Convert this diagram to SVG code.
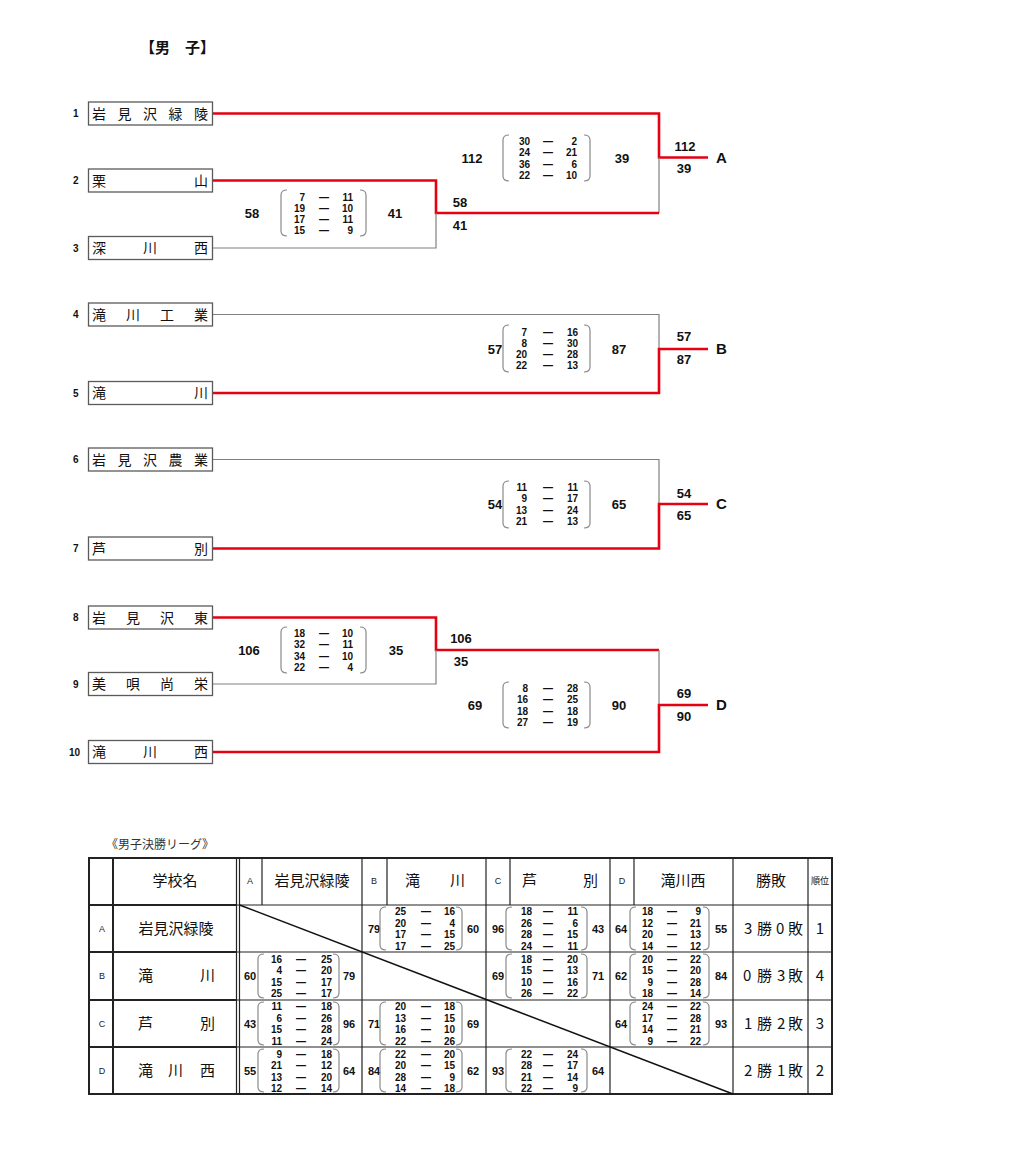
<svg xmlns="http://www.w3.org/2000/svg" width="1031" height="1174" viewBox="0 0 1031 1174">
<style>
.bg{fill:#fff}
.box{fill:#fff;stroke:#5a5a5a;stroke-width:1.3}
.nm{font-family:"Noto Sans CJK JP","Noto Sans CJK SC",sans-serif;font-size:14px;fill:#111}
.tn{font-family:"Noto Sans CJK JP","Noto Sans CJK SC",sans-serif;font-size:15px;fill:#111}
.seed{font-family:"Liberation Sans",Arial,sans-serif;font-size:10px;font-weight:bold;fill:#111}
.g{fill:none;stroke:#808080;stroke-width:1.2}
.r{fill:none;stroke:#e50012;stroke-width:2.6}
.tot{font-family:"Liberation Sans",Arial,sans-serif;font-size:13px;font-weight:bold;fill:#111;text-anchor:middle}
.lab{font-family:"Liberation Sans",Arial,sans-serif;font-size:15px;font-weight:bold;fill:#111}
.s{font-family:"Liberation Sans Narrow","Liberation Sans",Arial,sans-serif;font-size:10px;font-weight:bold;fill:#111;text-anchor:end}
.d{font-family:"Liberation Sans",Arial,sans-serif;font-size:10px;font-weight:bold;fill:#111;text-anchor:middle}
.br{fill:none;stroke:#8a8a8a;stroke-width:1.2}
.tt{font-family:"Liberation Sans",Arial,sans-serif;font-size:11px;font-weight:bold;fill:#111;text-anchor:middle}
.tl{fill:none;stroke:#222;stroke-width:1.2}
.tk{fill:none;stroke:#222;stroke-width:2}
.let{font-family:"Liberation Sans",Arial,sans-serif;font-size:9px;fill:#222;text-anchor:middle}
.mid{text-anchor:middle}
</style>
<rect class="bg" x="0" y="0" width="1031" height="1174"/>
<text x="140" y="53" style="font-family:'Noto Sans CJK JP','Noto Sans CJK SC',sans-serif;font-size:15px;font-weight:bold;fill:#111">【男　子】</text>

<g id="connectors">
<path class="r" d="M213,113.5 H659 V157.5 H708"/>
<path class="g" d="M659,157.5 V213"/>
<path class="r" d="M213,180.5 H436 V213 H659"/>
<path class="g" d="M213,248 H436 V213"/>
<path class="g" d="M213,314.5 H659 V349"/>
<path class="r" d="M213,393 H659 V349 H708"/>
<path class="g" d="M213,459.5 H659 V504"/>
<path class="r" d="M213,548.5 H659 V504 H708"/>
<path class="r" d="M213,617.5 H436 V650 H659"/>
<path class="g" d="M213,684 H436 V650"/>
<path class="g" d="M659,650 V705"/>
<path class="r" d="M213,752 H659 V705 H708"/>
</g>

<g id="team1"><rect class="box" x="88.5" y="102" width="124" height="23"/><text class="seed" x="73" y="117">1</text><text class="nm" x="92 117.5 143 168.5 194" y="118.5">岩見沢緑陵</text></g>
<g id="team2"><rect class="box" x="88.5" y="169" width="124" height="23"/><text class="seed" x="73" y="184">2</text><text class="nm" x="92 194" y="185.5">栗山</text></g>
<g id="team3"><rect class="box" x="88.5" y="236.5" width="124" height="23"/><text class="seed" x="73" y="251.5">3</text><text class="nm" x="92 143 194" y="253">深川西</text></g>
<g id="team4"><rect class="box" x="88.5" y="303" width="124" height="23"/><text class="seed" x="73" y="318">4</text><text class="nm" x="92 126 160 194" y="319.5">滝川工業</text></g>
<g id="team5"><rect class="box" x="88.5" y="381.5" width="124" height="23"/><text class="seed" x="73" y="396.5">5</text><text class="nm" x="92 194" y="398">滝川</text></g>
<g id="team6"><rect class="box" x="88.5" y="448" width="124" height="23"/><text class="seed" x="73" y="463">6</text><text class="nm" x="92 117.5 143 168.5 194" y="464.5">岩見沢農業</text></g>
<g id="team7"><rect class="box" x="88.5" y="537" width="124" height="23"/><text class="seed" x="73" y="552">7</text><text class="nm" x="92 194" y="553.5">芦別</text></g>
<g id="team8"><rect class="box" x="88.5" y="606" width="124" height="23"/><text class="seed" x="73" y="621">8</text><text class="nm" x="92 126 160 194" y="622.5">岩見沢東</text></g>
<g id="team9"><rect class="box" x="88.5" y="672.5" width="124" height="23"/><text class="seed" x="73" y="687.5">9</text><text class="nm" x="92 126 160 194" y="689">美唄尚栄</text></g>
<g id="team10"><rect class="box" x="88.5" y="740.5" width="124" height="23"/><text class="seed" x="69" y="755.5">10</text><text class="nm" x="92 143 194" y="757">滝川西</text></g>

<g id="labels">
<text class="tot" x="685" y="151">112</text><text class="tot" x="684" y="173">39</text><text class="lab" x="716" y="163">A</text>
<text class="tot" x="460" y="207">58</text><text class="tot" x="460" y="230">41</text>
<text class="tot" x="684" y="341">57</text><text class="tot" x="684" y="364">87</text><text class="lab" x="716" y="354">B</text>
<text class="tot" x="684" y="498">54</text><text class="tot" x="684" y="520">65</text><text class="lab" x="716" y="509">C</text>
<text class="tot" x="461" y="643">106</text><text class="tot" x="461" y="666">35</text>
<text class="tot" x="684" y="698">69</text><text class="tot" x="684" y="721">90</text><text class="lab" x="716" y="710">D</text>
</g>

<g id="score-A-final">
<text class="tot" x="472" y="163">112</text><text class="tot" x="622" y="163">39</text>
<path class="br" d="M509,135 Q503,135 503,140 V176 Q503,181 509,181"/><path class="br" d="M584,135 Q590,135 590,140 V176 Q590,181 584,181"/>
<text class="s" x="530" y="145">30<tspan x="530" dy="11.3">24</tspan><tspan x="530" dy="11.3">36</tspan><tspan x="530" dy="11.3">22</tspan></text>
<text class="d" x="548" y="145">—<tspan x="548" dy="11.3">—</tspan><tspan x="548" dy="11.3">—</tspan><tspan x="548" dy="11.3">—</tspan></text>
<text class="s" x="577" y="145">2<tspan x="577" dy="11.3">21</tspan><tspan x="577" dy="11.3">6</tspan><tspan x="577" dy="11.3">10</tspan></text>
</g>
<g id="score-2-3">
<text class="tot" x="252" y="218">58</text><text class="tot" x="395" y="218">41</text>
<path class="br" d="M287,190 Q281,190 281,195 V231 Q281,236 287,236"/><path class="br" d="M360,190 Q366,190 366,195 V231 Q366,236 360,236"/>
<text class="s" x="305" y="200.5">7<tspan x="305" dy="11.3">19</tspan><tspan x="305" dy="11.3">17</tspan><tspan x="305" dy="11.3">15</tspan></text>
<text class="d" x="324" y="200.5">—<tspan x="324" dy="11.3">—</tspan><tspan x="324" dy="11.3">—</tspan><tspan x="324" dy="11.3">—</tspan></text>
<text class="s" x="353" y="200.5">11<tspan x="353" dy="11.3">10</tspan><tspan x="353" dy="11.3">11</tspan><tspan x="353" dy="11.3">9</tspan></text>
</g>
<g id="score-B">
<text class="tot" x="495" y="354">57</text><text class="tot" x="619" y="354">87</text>
<path class="br" d="M509,325 Q503,325 503,330 V367 Q503,372 509,372"/><path class="br" d="M584,325 Q590,325 590,330 V367 Q590,372 584,372"/>
<text class="s" x="527" y="335.5">7<tspan x="527" dy="11.3">8</tspan><tspan x="527" dy="11.3">20</tspan><tspan x="527" dy="11.3">22</tspan></text>
<text class="d" x="548" y="335.5">—<tspan x="548" dy="11.3">—</tspan><tspan x="548" dy="11.3">—</tspan><tspan x="548" dy="11.3">—</tspan></text>
<text class="s" x="578" y="335.5">16<tspan x="578" dy="11.3">30</tspan><tspan x="578" dy="11.3">28</tspan><tspan x="578" dy="11.3">13</tspan></text>
</g>
<g id="score-C">
<text class="tot" x="495" y="509">54</text><text class="tot" x="619" y="509">65</text>
<path class="br" d="M509,481 Q503,481 503,486 V523 Q503,528 509,528"/><path class="br" d="M584,481 Q590,481 590,486 V523 Q590,528 584,528"/>
<text class="s" x="527" y="491">11<tspan x="527" dy="11.3">9</tspan><tspan x="527" dy="11.3">13</tspan><tspan x="527" dy="11.3">21</tspan></text>
<text class="d" x="548" y="491">—<tspan x="548" dy="11.3">—</tspan><tspan x="548" dy="11.3">—</tspan><tspan x="548" dy="11.3">—</tspan></text>
<text class="s" x="578" y="491">11<tspan x="578" dy="11.3">17</tspan><tspan x="578" dy="11.3">24</tspan><tspan x="578" dy="11.3">13</tspan></text>
</g>
<g id="score-8-9">
<text class="tot" x="249" y="655">106</text><text class="tot" x="396" y="655">35</text>
<path class="br" d="M287,627 Q281,627 281,632 V668 Q281,673 287,673"/><path class="br" d="M360,627 Q366,627 366,632 V668 Q366,673 360,673"/>
<text class="s" x="305" y="637">18<tspan x="305" dy="11.3">32</tspan><tspan x="305" dy="11.3">34</tspan><tspan x="305" dy="11.3">22</tspan></text>
<text class="d" x="324" y="637">—<tspan x="324" dy="11.3">—</tspan><tspan x="324" dy="11.3">—</tspan><tspan x="324" dy="11.3">—</tspan></text>
<text class="s" x="353" y="637">10<tspan x="353" dy="11.3">11</tspan><tspan x="353" dy="11.3">10</tspan><tspan x="353" dy="11.3">4</tspan></text>
</g>
<g id="score-D-final">
<text class="tot" x="475" y="710">69</text><text class="tot" x="619" y="710">90</text>
<path class="br" d="M509,682 Q503,682 503,687 V723 Q503,728 509,728"/><path class="br" d="M584,682 Q590,682 590,687 V723 Q590,728 584,728"/>
<text class="s" x="528" y="692">8<tspan x="528" dy="11.3">16</tspan><tspan x="528" dy="11.3">18</tspan><tspan x="528" dy="11.3">27</tspan></text>
<text class="d" x="548" y="692">—<tspan x="548" dy="11.3">—</tspan><tspan x="548" dy="11.3">—</tspan><tspan x="548" dy="11.3">—</tspan></text>
<text class="s" x="578" y="692">28<tspan x="578" dy="11.3">25</tspan><tspan x="578" dy="11.3">18</tspan><tspan x="578" dy="11.3">19</tspan></text>
</g>

<text x="106" y="849" style="font-family:'Noto Sans CJK JP','Noto Sans CJK SC',sans-serif;font-size:12px;fill:#333">《男子決勝リーグ》</text>

<g id="league-table">
<line class="tl" x1="89" y1="905" x2="832" y2="905"/>
<line class="tl" x1="89" y1="952" x2="832" y2="952"/>
<line class="tl" x1="89" y1="1000" x2="832" y2="1000"/>
<line class="tl" x1="89" y1="1047" x2="832" y2="1047"/>
<line class="tk" x1="89" y1="905" x2="237" y2="905"/>
<line class="tk" x1="89" y1="952" x2="237" y2="952"/>
<line class="tk" x1="89" y1="1000" x2="237" y2="1000"/>
<line class="tk" x1="89" y1="1047" x2="237" y2="1047"/>
<line class="tl" x1="262" y1="858" x2="262" y2="905"/>
<line class="tl" x1="387" y1="858" x2="387" y2="905"/>
<line class="tl" x1="510" y1="858" x2="510" y2="905"/>
<line class="tl" x1="634" y1="858" x2="634" y2="905"/>
<line class="tk" x1="113" y1="858" x2="113" y2="1094"/>
<line class="tl" x1="236.5" y1="858" x2="236.5" y2="1094"/>
<line class="tl" x1="239.5" y1="858" x2="239.5" y2="1094"/>
<line class="tl" x1="362" y1="858" x2="362" y2="1094"/>
<line class="tl" x1="486" y1="858" x2="486" y2="1094"/>
<line class="tl" x1="610" y1="858" x2="610" y2="1094"/>
<line class="tl" x1="733" y1="858" x2="733" y2="1094"/>
<line class="tl" x1="808" y1="858" x2="808" y2="1094"/>
<rect class="tk" x="89" y="858" width="743" height="236"/>
<line x1="239.5" y1="905" x2="733" y2="1094" stroke="#111" stroke-width="1.5"/>

<text class="tn mid" x="175" y="886">学校名</text>
<text class="let" x="250" y="884">A</text>
<text class="tn mid" x="312" y="886">岩見沢緑陵</text>
<text class="let" x="374" y="884">B</text>
<text class="tn" x="405 450" y="886">滝川</text>
<text class="let" x="498" y="884">C</text>
<text class="tn" x="522 583" y="886">芦別</text>
<text class="let" x="622" y="884">D</text>
<text class="tn mid" x="683" y="886">滝川西</text>
<text class="tn mid" x="771" y="886">勝敗</text>
<text class="mid" x="820" y="884" style="font-family:'Noto Sans CJK JP','Noto Sans CJK SC',sans-serif;font-size:9px;fill:#111">順位</text>

<text class="let" x="102" y="932">A</text>
<text class="let" x="102" y="979">B</text>
<text class="let" x="102" y="1027">C</text>
<text class="let" x="102" y="1074">D</text>
<text class="tn mid" x="176" y="934">岩見沢緑陵</text>
<text class="tn" x="138 200" y="981">滝川</text>
<text class="tn" x="138 200" y="1029">芦別</text>
<text class="tn" x="138 168 200" y="1076">滝川西</text>

<text class="tn" x="744 757 776 788" y="934">3勝0敗</text>
<text class="tn" x="743 757 777 788" y="981">0勝3敗</text>
<text class="tn" x="744 757 777 788" y="1029">1勝2敗</text>
<text class="tn" x="744 757 777 788" y="1076">2勝1敗</text>
<text class="tn mid" x="820" y="934">1</text>
<text class="tn mid" x="820" y="981">4</text>
<text class="tn mid" x="820" y="1029">3</text>
<text class="tn mid" x="820" y="1076">2</text>

<g id="cell-A-B">
<text class="tt" x="374" y="932.5">79</text><text class="tt" x="473" y="932.5">60</text>
<path class="br" d="M386,907 Q380,907 380,912 V945 Q380,950 386,950"/><path class="br" d="M456,907 Q462,907 462,912 V945 Q462,950 456,950"/>
<text class="s" x="406" y="915">25<tspan x="406" dy="11.5">20</tspan><tspan x="406" dy="11.5">17</tspan><tspan x="406" dy="11.5">17</tspan></text>
<text class="d" x="426" y="915">—<tspan x="426" dy="11.5">—</tspan><tspan x="426" dy="11.5">—</tspan><tspan x="426" dy="11.5">—</tspan></text>
<text class="s" x="455" y="915">16<tspan x="455" dy="11.5">4</tspan><tspan x="455" dy="11.5">15</tspan><tspan x="455" dy="11.5">25</tspan></text>
</g>
<g id="cell-A-C">
<text class="tt" x="498" y="932.5">96</text><text class="tt" x="598" y="932.5">43</text>
<path class="br" d="M512,907 Q506,907 506,912 V945 Q506,950 512,950"/><path class="br" d="M581,907 Q587,907 587,912 V945 Q587,950 581,950"/>
<text class="s" x="532" y="915">18<tspan x="532" dy="11.5">26</tspan><tspan x="532" dy="11.5">28</tspan><tspan x="532" dy="11.5">24</tspan></text>
<text class="d" x="548" y="915">—<tspan x="548" dy="11.5">—</tspan><tspan x="548" dy="11.5">—</tspan><tspan x="548" dy="11.5">—</tspan></text>
<text class="s" x="578" y="915">11<tspan x="578" dy="11.5">6</tspan><tspan x="578" dy="11.5">15</tspan><tspan x="578" dy="11.5">11</tspan></text>
</g>
<g id="cell-A-D">
<text class="tt" x="621" y="932.5">64</text><text class="tt" x="721" y="932.5">55</text>
<path class="br" d="M636,907 Q630,907 630,912 V945 Q630,950 636,950"/><path class="br" d="M703,907 Q709,907 709,912 V945 Q709,950 703,950"/>
<text class="s" x="653" y="915">18<tspan x="653" dy="11.5">12</tspan><tspan x="653" dy="11.5">20</tspan><tspan x="653" dy="11.5">14</tspan></text>
<text class="d" x="672" y="915">—<tspan x="672" dy="11.5">—</tspan><tspan x="672" dy="11.5">—</tspan><tspan x="672" dy="11.5">—</tspan></text>
<text class="s" x="701" y="915">9<tspan x="701" dy="11.5">21</tspan><tspan x="701" dy="11.5">13</tspan><tspan x="701" dy="11.5">12</tspan></text>
</g>
<g id="cell-B-A">
<text class="tt" x="250" y="980">60</text><text class="tt" x="349" y="980">79</text>
<path class="br" d="M264,954 Q258,954 258,959 V993 Q258,998 264,998"/><path class="br" d="M333,954 Q339,954 339,959 V993 Q339,998 333,998"/>
<text class="s" x="282" y="962.5">16<tspan x="282" dy="11.5">4</tspan><tspan x="282" dy="11.5">15</tspan><tspan x="282" dy="11.5">25</tspan></text>
<text class="d" x="301" y="962.5">—<tspan x="301" dy="11.5">—</tspan><tspan x="301" dy="11.5">—</tspan><tspan x="301" dy="11.5">—</tspan></text>
<text class="s" x="332" y="962.5">25<tspan x="332" dy="11.5">20</tspan><tspan x="332" dy="11.5">17</tspan><tspan x="332" dy="11.5">17</tspan></text>
</g>
<g id="cell-B-C">
<text class="tt" x="498" y="980">69</text><text class="tt" x="598" y="980">71</text>
<path class="br" d="M512,954 Q506,954 506,959 V993 Q506,998 512,998"/><path class="br" d="M581,954 Q587,954 587,959 V993 Q587,998 581,998"/>
<text class="s" x="532" y="962.5">18<tspan x="532" dy="11.5">15</tspan><tspan x="532" dy="11.5">10</tspan><tspan x="532" dy="11.5">26</tspan></text>
<text class="d" x="548" y="962.5">—<tspan x="548" dy="11.5">—</tspan><tspan x="548" dy="11.5">—</tspan><tspan x="548" dy="11.5">—</tspan></text>
<text class="s" x="578" y="962.5">20<tspan x="578" dy="11.5">13</tspan><tspan x="578" dy="11.5">16</tspan><tspan x="578" dy="11.5">22</tspan></text>
</g>
<g id="cell-B-D">
<text class="tt" x="621" y="980">62</text><text class="tt" x="721" y="980">84</text>
<path class="br" d="M636,954 Q630,954 630,959 V993 Q630,998 636,998"/><path class="br" d="M703,954 Q709,954 709,959 V993 Q709,998 703,998"/>
<text class="s" x="653" y="962.5">20<tspan x="653" dy="11.5">15</tspan><tspan x="653" dy="11.5">9</tspan><tspan x="653" dy="11.5">18</tspan></text>
<text class="d" x="672" y="962.5">—<tspan x="672" dy="11.5">—</tspan><tspan x="672" dy="11.5">—</tspan><tspan x="672" dy="11.5">—</tspan></text>
<text class="s" x="701" y="962.5">22<tspan x="701" dy="11.5">20</tspan><tspan x="701" dy="11.5">28</tspan><tspan x="701" dy="11.5">14</tspan></text>
</g>
<g id="cell-C-A">
<text class="tt" x="250" y="1027.5">43</text><text class="tt" x="349" y="1027.5">96</text>
<path class="br" d="M264,1002 Q258,1002 258,1007 V1040 Q258,1045 264,1045"/><path class="br" d="M333,1002 Q339,1002 339,1007 V1040 Q339,1045 333,1045"/>
<text class="s" x="282" y="1010">11<tspan x="282" dy="11.5">6</tspan><tspan x="282" dy="11.5">15</tspan><tspan x="282" dy="11.5">11</tspan></text>
<text class="d" x="301" y="1010">—<tspan x="301" dy="11.5">—</tspan><tspan x="301" dy="11.5">—</tspan><tspan x="301" dy="11.5">—</tspan></text>
<text class="s" x="332" y="1010">18<tspan x="332" dy="11.5">26</tspan><tspan x="332" dy="11.5">28</tspan><tspan x="332" dy="11.5">24</tspan></text>
</g>
<g id="cell-C-B">
<text class="tt" x="374" y="1027.5">71</text><text class="tt" x="473" y="1027.5">69</text>
<path class="br" d="M386,1002 Q380,1002 380,1007 V1040 Q380,1045 386,1045"/><path class="br" d="M456,1002 Q462,1002 462,1007 V1040 Q462,1045 456,1045"/>
<text class="s" x="406" y="1010">20<tspan x="406" dy="11.5">13</tspan><tspan x="406" dy="11.5">16</tspan><tspan x="406" dy="11.5">22</tspan></text>
<text class="d" x="426" y="1010">—<tspan x="426" dy="11.5">—</tspan><tspan x="426" dy="11.5">—</tspan><tspan x="426" dy="11.5">—</tspan></text>
<text class="s" x="455" y="1010">18<tspan x="455" dy="11.5">15</tspan><tspan x="455" dy="11.5">10</tspan><tspan x="455" dy="11.5">26</tspan></text>
</g>
<g id="cell-C-D">
<text class="tt" x="621" y="1027.5">64</text><text class="tt" x="721" y="1027.5">93</text>
<path class="br" d="M636,1002 Q630,1002 630,1007 V1040 Q630,1045 636,1045"/><path class="br" d="M703,1002 Q709,1002 709,1007 V1040 Q709,1045 703,1045"/>
<text class="s" x="653" y="1010">24<tspan x="653" dy="11.5">17</tspan><tspan x="653" dy="11.5">14</tspan><tspan x="653" dy="11.5">9</tspan></text>
<text class="d" x="672" y="1010">—<tspan x="672" dy="11.5">—</tspan><tspan x="672" dy="11.5">—</tspan><tspan x="672" dy="11.5">—</tspan></text>
<text class="s" x="701" y="1010">22<tspan x="701" dy="11.5">28</tspan><tspan x="701" dy="11.5">21</tspan><tspan x="701" dy="11.5">22</tspan></text>
</g>
<g id="cell-D-A">
<text class="tt" x="250" y="1075">55</text><text class="tt" x="349" y="1075">64</text>
<path class="br" d="M264,1049 Q258,1049 258,1054 V1087 Q258,1092 264,1092"/><path class="br" d="M333,1049 Q339,1049 339,1054 V1087 Q339,1092 333,1092"/>
<text class="s" x="282" y="1057.5">9<tspan x="282" dy="11.5">21</tspan><tspan x="282" dy="11.5">13</tspan><tspan x="282" dy="11.5">12</tspan></text>
<text class="d" x="301" y="1057.5">—<tspan x="301" dy="11.5">—</tspan><tspan x="301" dy="11.5">—</tspan><tspan x="301" dy="11.5">—</tspan></text>
<text class="s" x="332" y="1057.5">18<tspan x="332" dy="11.5">12</tspan><tspan x="332" dy="11.5">20</tspan><tspan x="332" dy="11.5">14</tspan></text>
</g>
<g id="cell-D-B">
<text class="tt" x="374" y="1075">84</text><text class="tt" x="473" y="1075">62</text>
<path class="br" d="M386,1049 Q380,1049 380,1054 V1087 Q380,1092 386,1092"/><path class="br" d="M456,1049 Q462,1049 462,1054 V1087 Q462,1092 456,1092"/>
<text class="s" x="406" y="1057.5">22<tspan x="406" dy="11.5">20</tspan><tspan x="406" dy="11.5">28</tspan><tspan x="406" dy="11.5">14</tspan></text>
<text class="d" x="426" y="1057.5">—<tspan x="426" dy="11.5">—</tspan><tspan x="426" dy="11.5">—</tspan><tspan x="426" dy="11.5">—</tspan></text>
<text class="s" x="455" y="1057.5">20<tspan x="455" dy="11.5">15</tspan><tspan x="455" dy="11.5">9</tspan><tspan x="455" dy="11.5">18</tspan></text>
</g>
<g id="cell-D-C">
<text class="tt" x="498" y="1075">93</text><text class="tt" x="598" y="1075">64</text>
<path class="br" d="M512,1049 Q506,1049 506,1054 V1087 Q506,1092 512,1092"/><path class="br" d="M581,1049 Q587,1049 587,1054 V1087 Q587,1092 581,1092"/>
<text class="s" x="532" y="1057.5">22<tspan x="532" dy="11.5">28</tspan><tspan x="532" dy="11.5">21</tspan><tspan x="532" dy="11.5">22</tspan></text>
<text class="d" x="548" y="1057.5">—<tspan x="548" dy="11.5">—</tspan><tspan x="548" dy="11.5">—</tspan><tspan x="548" dy="11.5">—</tspan></text>
<text class="s" x="578" y="1057.5">24<tspan x="578" dy="11.5">17</tspan><tspan x="578" dy="11.5">14</tspan><tspan x="578" dy="11.5">9</tspan></text>
</g>
</g>
</svg>
